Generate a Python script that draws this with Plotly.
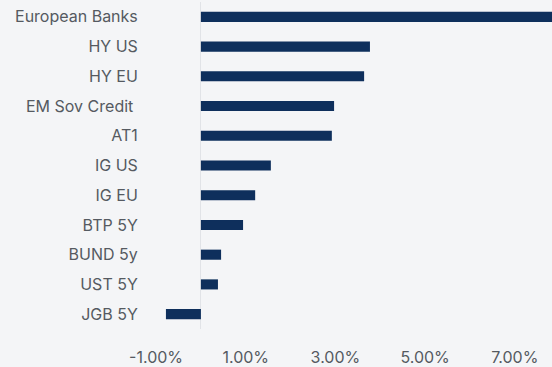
import plotly.graph_objects as go

# Total return by asset class (%), listed top to bottom
categories = ["European Banks", "HY US", "HY EU", "EM Sov Credit ", "AT1", "IG US",
              "IG EU", "BTP 5Y", "BUND 5y", "UST 5Y", "JGB 5Y"]
returns = [8.0, 3.77, 3.64, 2.97, 2.92, 1.56, 1.21, 0.94, 0.45, 0.38, -0.78]

tick_vals = [-1, 1, 3, 5, 7]
tick_text = ["-1.00%", "1.00%", "3.00%", "5.00%", "7.00%"]

BG = "#f4f5f7"
BAR = "#0e2f5c"
TEXT = "#555a61"

fig = go.Figure(
    go.Bar(
        x=returns,
        y=categories,
        orientation="h",
        marker=dict(color=BAR, line=dict(width=0)),
    )
)

fig.update_layout(
    width=552,
    height=367,
    margin=dict(l=148, r=0, t=2, b=38),
    paper_bgcolor=BG,
    plot_bgcolor=BG,
    bargap=0.66,
    showlegend=False,
    font=dict(family="Inter, sans-serif", size=16, color=TEXT),
)

fig.update_xaxes(
    range=[-1.18, 7.83],
    tickvals=tick_vals,
    ticktext=tick_text,
    showgrid=False,
    zeroline=True,
    zerolinecolor="#e1e3e7",
    zerolinewidth=1,
    showline=False,
    ticks="outside",
    ticklen=14,
    tickcolor="rgba(0,0,0,0)",
    tickfont=dict(size=16, color=TEXT),
)

fig.update_yaxes(
    categoryorder="array",
    categoryarray=categories[::-1],
    showgrid=False,
    zeroline=False,
    showline=False,
    ticks="outside",
    ticklen=6,
    tickcolor="rgba(0,0,0,0)",
    tickfont=dict(size=16, color=TEXT),
)

fig.write_html("out.html")
